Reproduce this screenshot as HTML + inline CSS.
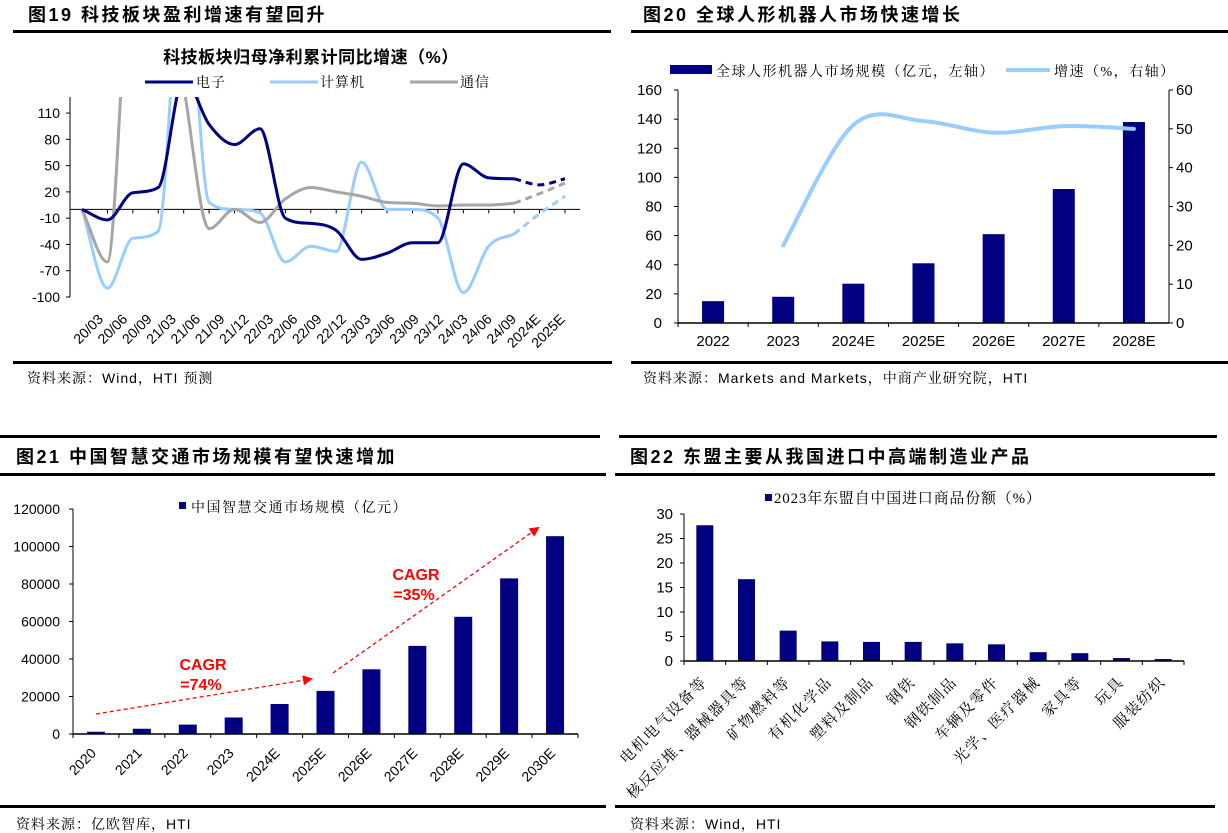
<!DOCTYPE html>
<html><head><meta charset="utf-8"><style>
body{margin:0;background:#fff;}
svg{display:block;font-family:"Liberation Sans","Noto Sans CJK SC",sans-serif;}
.hd{font-family:"Liberation Sans","Noto Sans CJK SC",sans-serif;font-weight:bold;font-size:18px;letter-spacing:2.5px;fill:#000;}
.src{font-family:"Liberation Sans","Noto Serif CJK SC",serif;font-size:14px;letter-spacing:1px;fill:#000;}
.tk{font-size:14px;fill:#000;}
.cj{font-family:"Liberation Serif","Noto Serif CJK SC",serif;font-size:14px;letter-spacing:1px;fill:#000;}
</style></head><body>
<svg id="s" width="1228" height="833" viewBox="0 0 1228 833" xmlns="http://www.w3.org/2000/svg">
<defs><clipPath id="c1"><rect x="70" y="97" width="510" height="205"/></clipPath>
<marker id="ah" markerWidth="10" markerHeight="10" refX="8" refY="5" orient="auto" markerUnits="userSpaceOnUse"><path d="M0,0 L10,5 L0,10 Z" fill="#ff0000"/></marker></defs>
<g>
<text class="hd" x="28" y="21">图19 科技板块盈利增速有望回升</text>
<text class="hd" x="643" y="21">图20 全球人形机器人市场快速增长</text>
<rect x="13" y="30" width="598" height="3" fill="#000"/>
<rect x="631" y="30" width="597" height="3" fill="#000"/>
<rect x="13" y="361" width="599" height="3" fill="#000"/>
<rect x="631" y="361" width="597" height="3" fill="#000"/>
<text class="src" x="27" y="383">资料来源：Wind，HTI 预测</text>
<text class="src" x="643" y="383">资料来源：Markets and Markets，中商产业研究院，HTI</text>
<rect x="0" y="435" width="600" height="3" fill="#000"/>
<rect x="619" y="435" width="598" height="3" fill="#000"/>
<text class="hd" x="16" y="463">图21 中国智慧交通市场规模有望快速增加</text>
<text class="hd" x="630" y="463">图22 东盟主要从我国进口中高端制造业产品</text>
<rect x="0" y="473" width="606" height="3" fill="#000"/>
<rect x="615" y="473" width="600" height="3" fill="#000"/>
<rect x="0" y="805" width="606" height="3" fill="#000"/>
<rect x="615" y="805" width="600" height="3" fill="#000"/>
<text class="src" x="16" y="829">资料来源：亿欧智库，HTI</text>
<text class="src" x="630" y="829">资料来源：Wind，HTI</text>
</g>
<g id="p1">
<text x="311" y="63" text-anchor="middle" style="font-weight:bold;font-size:17px;letter-spacing:0.5px">科技板块归母净利累计同比增速（%）</text>
<g>
<line x1="145" y1="82" x2="193" y2="82" stroke="#000080" stroke-width="3"/><text class="cj" x="196" y="87">电子</text>
<line x1="270" y1="82" x2="318" y2="82" stroke="#99ccff" stroke-width="3"/><text class="cj" x="320" y="87">计算机</text>
<line x1="410" y1="82" x2="458" y2="82" stroke="#a6a6a6" stroke-width="3"/><text class="cj" x="460" y="87">通信</text>
</g>
</g>
<g id="p2">
<g>
<rect x="670" y="65" width="42" height="9" fill="#000080"/>
<text class="cj" x="716" y="76" style="letter-spacing:1.5px">全球人形机器人市场规模（亿元，左轴）</text>
<line x1="1006" y1="70" x2="1050" y2="70" stroke="#99ccff" stroke-width="4"/>
<text class="cj" x="1054" y="76" style="letter-spacing:1.5px">增速（%，右轴）</text>
</g>
</g>
<g id="p3">
<rect x="179" y="502" width="7" height="7" fill="#000080"/>
<text class="cj" x="191" y="512" style="letter-spacing:1.5px">中国智慧交通市场规模（亿元）</text>
<line x1="96" y1="714" x2="311" y2="679" stroke="#ff0000" stroke-width="1.3" stroke-dasharray="4,3" marker-end="url(#ah)"/>
<line x1="333" y1="673" x2="538" y2="528" stroke="#ff0000" stroke-width="1.3" stroke-dasharray="4,3" marker-end="url(#ah)"/>
<text x="204" y="670" text-anchor="middle" style="font-weight:bold;font-size:16px;fill:#ff0000"><tspan x="203" dy="0">CAGR</tspan><tspan x="201" dy="20">=74%</tspan></text>
<text x="416" y="580" text-anchor="middle" style="font-weight:bold;font-size:16px;fill:#ff0000"><tspan x="416" dy="0">CAGR</tspan><tspan x="414" dy="20">=35%</tspan></text>
</g>
<g id="p4">
<rect x="765" y="494" width="7" height="7" fill="#000080"/>
<text class="cj" x="774" y="503" style="font-size:15px;letter-spacing:0.8px">2023年东盟自中国进口商品份额（%）</text>
</g>
</svg>
<script>
const NS='http://www.w3.org/2000/svg';
// ---- Fig19 data ----
const p1Cats=['20/03','20/06','20/09','21/03','21/06','21/09','21/12','22/03','22/06','22/09','22/12','23/03','23/06','23/09','23/12','24/03','24/06','24/09','2024E','2025E'];
const p1Elec=[0,-12,19,25,150,97,74,92,-10,-16,-24,-57,-50,-38,-38,52,36,35,28,35];
const p1Comp=[0,-90,-33,-25,300,8,0,-4,-60,-42,-48,54,0,0,-10,-95,-42,-28,-5,15];
const p1Tel=[0,-60,300,300,140,-22,0,-15,12,25,20,15,8,7,4,5,5,7,18,30];
const p1Ticks=[110,80,50,20,-10,-40,-70,-100];
// ---- Fig20 data ----
const p2Cats=['2022','2023','2024E','2025E','2026E','2027E','2028E'];
const p2Bars=[15,18,27,41,61,92,138];
const p2Growth=[null,20,51,52,49,50.7,50];
const p2Left=[0,20,40,60,80,100,120,140,160];
const p2Right=[0,10,20,30,40,50,60];
// ---- Fig21 data ----
const p3Cats=['2020','2021','2022','2023','2024E','2025E','2026E','2027E','2028E','2029E','2030E'];
const p3Vals=[1200,2800,5000,8800,16000,23000,34500,47000,62500,83000,105500];
const p3Ticks=[0,20000,40000,60000,80000,100000,120000];
// ---- Fig22 data ----
const p4Cats=['电机电气设备等','核反应堆、器械器具等','矿物燃料等','有机化学品','塑料及制品','钢铁','钢铁制品','车辆及零件','光学、医疗器械','家具等','玩具','服装纺织'];
const p4Vals=[27.7,16.7,6.2,4.0,3.9,3.9,3.6,3.4,1.8,1.6,0.6,0.4];
const p4Ticks=[0,5,10,15,20,25,30];

function mk(parent,tag,attrs,txt){const e=document.createElementNS(NS,tag);for(const k in attrs)e.setAttribute(k,attrs[k]);if(txt!==undefined)e.textContent=txt;parent.appendChild(e);return e;}
function smooth(pts){let d='M'+pts[0][0]+','+pts[0][1];for(let i=0;i<pts.length-1;i++){const p0=pts[i-1]||pts[i],p1=pts[i],p2=pts[i+1],p3=pts[i+2]||p2;const c1=[p1[0]+(p2[0]-p0[0])/6,p1[1]+(p2[1]-p0[1])/6],c2=[p2[0]-(p3[0]-p1[0])/6,p2[1]-(p3[1]-p1[1])/6];d+=' C'+c1.join(',')+' '+c2.join(',')+' '+p2.join(',');}return d;}
function mono(pts){const n=pts.length;if(n<2)return '';const dx=[],dy=[],m=[];for(let i=0;i<n-1;i++){dx.push(pts[i+1][0]-pts[i][0]);dy.push(pts[i+1][1]-pts[i][1]);m.push(dy[i]/dx[i]);}
 const t=[m[0]];for(let i=1;i<n-1;i++){t.push(m[i-1]*m[i]<=0?0:(m[i-1]+m[i])/2);}t.push(m[n-2]);
 for(let i=0;i<n-1;i++){if(m[i]===0){t[i]=0;t[i+1]=0;continue;}const a=t[i]/m[i],b=t[i+1]/m[i],s=a*a+b*b;if(s>9){const k=3/Math.sqrt(s);t[i]=k*a*m[i];t[i+1]=k*b*m[i];}}
 let d='M'+pts[0][0]+','+pts[0][1];for(let i=0;i<n-1;i++){const h=dx[i]/3;d+=' C'+(pts[i][0]+h)+','+(pts[i][1]+t[i]*h)+' '+(pts[i+1][0]-h)+','+(pts[i+1][1]-t[i+1]*h)+' '+pts[i+1][0]+','+pts[i+1][1];}return d;}

// Fig19
(function(){
const g=document.getElementById('p1');
const x=i=>82+i*(565-82)/(p1Cats.length-1);
const y=v=>209.4-v*0.876;
mk(g,'line',{x1:70,y1:97,x2:70,y2:297,stroke:'#000','stroke-width':1});
p1Ticks.forEach(t=>{mk(g,'line',{x1:66,y1:y(t),x2:70,y2:y(t),stroke:'#000'});
 const e=mk(g,'text',{class:'tk',x:60,y:y(t)+5,'text-anchor':'end'},t);
 
 });
mk(g,'line',{x1:70,y1:y(0),x2:580,y2:y(0),stroke:'#000'});
p1Cats.forEach((c,i)=>{mk(g,'line',{x1:x(i),y1:y(0),x2:x(i),y2:y(0)+4,stroke:'#000'});
 const lx=104+i*24.3;
 const e=mk(g,'text',{class:'tk',style:'font-size:14px',transform:'translate('+lx+',320) rotate(-45)','text-anchor':'end'},c);
 
 });
const series=[[p1Comp,'#99ccff','computer'],[p1Tel,'#a6a6a6','telecom'],[p1Elec,'#000080','electronics']];
series.forEach(([vals,col,nm])=>{
 const pts=vals.map((v,i)=>[x(i),y(v)]);
 const e=mk(g,'path',{d:mono(pts.slice(0,18)),fill:'none',stroke:col,'stroke-width':3,'clip-path':'url(#c1)'});
 
 
 const e2=mk(g,'path',{d:mono(pts.slice(17)),fill:'none',stroke:col,'stroke-width':3,'stroke-dasharray':'7,5','clip-path':'url(#c1)'});
 
 
});
})();

// Fig20
(function(){
const g=document.getElementById('p2');
const L=678,R=1169,step=(R-L)/p2Cats.length;
const cx=i=>L+step*(i+0.5);
const yl=v=>323-v*(233/160), yr=v=>323-v*(233/60);
mk(g,'line',{x1:L,y1:90,x2:L,y2:323,stroke:'#000'});
mk(g,'line',{x1:R,y1:90,x2:R,y2:323,stroke:'#000'});
p2Left.forEach(t=>{mk(g,'line',{x1:L-4,y1:yl(t),x2:L,y2:yl(t),stroke:'#000'});
 const e=mk(g,'text',{class:'tk',style:'font-size:15px',x:662,y:yl(t)+5,'text-anchor':'end'},t);
 
 });
p2Right.forEach(t=>{mk(g,'line',{x1:R,y1:yr(t),x2:R+4,y2:yr(t),stroke:'#000'});
 const e=mk(g,'text',{class:'tk',style:'font-size:15px',x:1176,y:yr(t)+5},t);
 
 });
p2Bars.forEach((v,i)=>{const e=mk(g,'rect',{x:cx(i)-11,y:yl(v),width:22,height:323-yl(v),fill:'#000080'});
 
 });
mk(g,'line',{x1:L,y1:323,x2:R,y2:323,stroke:'#000','stroke-width':1.5});
p2Cats.forEach((c,i)=>{mk(g,'line',{x1:L+step*i,y1:323,x2:L+step*i,y2:327,stroke:'#000'});
 const e=mk(g,'text',{class:'tk',style:'font-size:15px',x:cx(i),y:346,'text-anchor':'middle'},c);
 
 });
const pts=[];p2Growth.forEach((v,i)=>{if(v!==null)pts.push([cx(i),yr(v)]);});
const e=mk(g,'path',{d:smooth(pts),fill:'none',stroke:'#99ccff','stroke-width':4,'stroke-linecap':'round'});


})();

// Fig21
(function(){
const g=document.getElementById('p3');
const L=73,R=578,step=(R-L)/p3Cats.length;
const cx=i=>L+step*(i+0.5);
const y=v=>734-v*(225/120000);
mk(g,'line',{x1:L,y1:509,x2:L,y2:734,stroke:'#000'});
p3Ticks.forEach(t=>{mk(g,'line',{x1:L-4,y1:y(t),x2:L,y2:y(t),stroke:'#000'});
 const e=mk(g,'text',{class:'tk',x:60,y:y(t)+5,'text-anchor':'end'},t);
 
 });
p3Vals.forEach((v,i)=>{const e=mk(g,'rect',{x:cx(i)-9,y:y(v),width:18,height:734-y(v),fill:'#000080'});
 
 });
mk(g,'line',{x1:L,y1:734,x2:R,y2:734,stroke:'#000','stroke-width':1.5});
p3Cats.forEach((c,i)=>{mk(g,'line',{x1:L+step*i,y1:734,x2:L+step*i,y2:738,stroke:'#000'});
 const e=mk(g,'text',{class:'tk',transform:'translate('+(cx(i)+1)+',754) rotate(-45)','text-anchor':'end'},c);
 
 });
mk(g,'line',{x1:R,y1:734,x2:R,y2:738,stroke:'#000'});
})();

// Fig22
(function(){
const g=document.getElementById('p4');
const L=684,R=1184,step=(R-L)/p4Cats.length;
const cx=i=>L+step*(i+0.5);
const y=v=>661-v*(147/30);
mk(g,'line',{x1:L,y1:514,x2:L,y2:661,stroke:'#000'});
p4Ticks.forEach(t=>{mk(g,'line',{x1:L-4,y1:y(t),x2:L,y2:y(t),stroke:'#000'});
 const e=mk(g,'text',{class:'tk',style:'font-size:15px',x:673,y:y(t)+5,'text-anchor':'end'},t);
 
 });
p4Vals.forEach((v,i)=>{const e=mk(g,'rect',{x:cx(i)-8.5,y:y(v),width:17,height:661-y(v),fill:'#000080'});
 
 });
mk(g,'line',{x1:L,y1:661,x2:R,y2:661,stroke:'#000','stroke-width':1.5});
p4Cats.forEach((c,i)=>{mk(g,'line',{x1:L+step*i,y1:661,x2:L+step*i,y2:665,stroke:'#000'});
 const e=mk(g,'text',{class:'cj',style:'font-size:15px;letter-spacing:1.5px',transform:'translate('+(cx(i)+3)+',683) rotate(-45)','text-anchor':'end'},c);
 
 });
mk(g,'line',{x1:R,y1:661,x2:R,y2:665,stroke:'#000'});
})();
</script>
</body></html>
